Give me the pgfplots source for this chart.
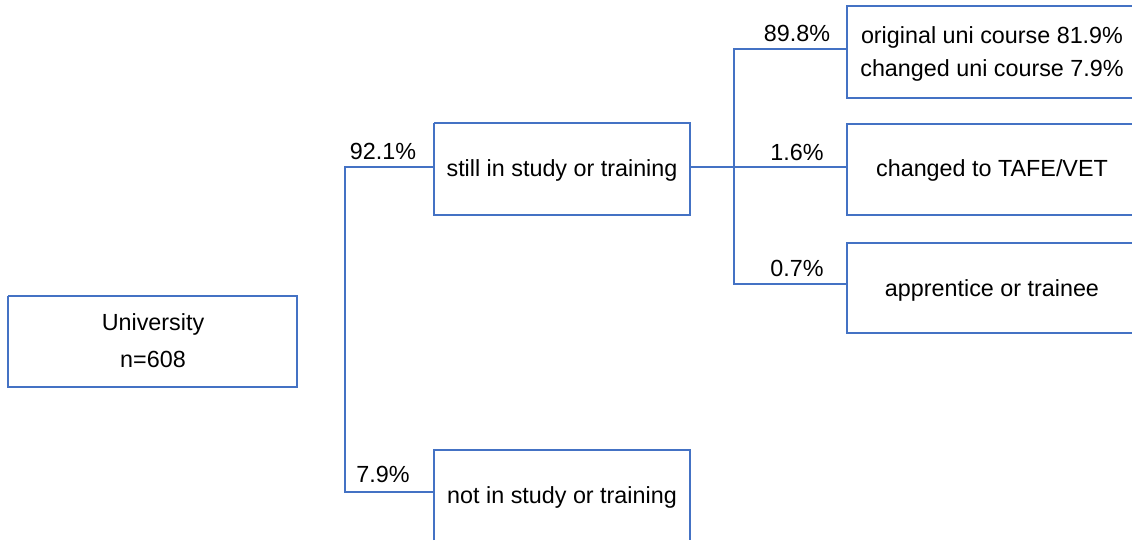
\documentclass[border=0pt]{standalone}
\usepackage{fontspec}
\setmainfont{Liberation Sans}
\usepackage{pgfplots}
\pgfplotsset{compat=1.18}
\definecolor{boxblue}{RGB}{68,114,196}
\tikzset{link/.style={draw=boxblue, line width=1pt, solid, no markers}}
\begin{document}
\begin{tikzpicture}
\begin{axis}[
    scale only axis,
    width=849pt, height=405pt,
    xmin=0, xmax=1132, ymin=0, ymax=540,
    y dir=reverse,
    hide axis,
    nodes={font=\fontsize{17.5}{20}\selectfont, text=black},
]
% keep the whole axis area as the picture
\path (rel axis cs:0,0) rectangle (rel axis cs:1,1);
% boxes (those cut off by the picture edge are left open)
\addplot[link] coordinates {(8,296) (297,296) (297,387) (8,387) (8,296)};
\addplot[link] coordinates {(434,123) (690,123) (690,215) (434,215) (434,123)};
\addplot[link] coordinates {(434,540) (434,450) (690,450) (690,540)};
\addplot[link] coordinates {(1132,6) (847,6) (847,98) (1132,98)};
\addplot[link] coordinates {(1132,124) (847,124) (847,215) (1132,215)};
\addplot[link] coordinates {(1132,243) (847,243) (847,333) (1132,333)};
% connectors
\addplot[link] coordinates {(434,167) (345,167) (345,492) (434,492)};
\addplot[link] coordinates {(690,167) (847,167)};
\addplot[link] coordinates {(847,49) (734,49) (734,284) (847,284)};
% labels
\node at (axis cs:153,324) {University};
\node at (axis cs:153,359) {n=608};
\node at (axis cs:562,170) {still in study or training};
\node at (axis cs:562,497) {not in study or training};
\node at (axis cs:992,37) {original uni course 81.9\%};
\node at (axis cs:992,70) {changed uni course 7.9\%};
\node at (axis cs:992,170) {changed to TAFE/VET};
\node at (axis cs:992,290) {apprentice or trainee};
\node at (axis cs:383,151) {92.1\%};
\node at (axis cs:383,474) {7.9\%};
\node at (axis cs:797,33) {89.8\%};
\node at (axis cs:797,152) {1.6\%};
\node at (axis cs:797,268) {0.7\%};
\end{axis}
\end{tikzpicture}
\end{document}
